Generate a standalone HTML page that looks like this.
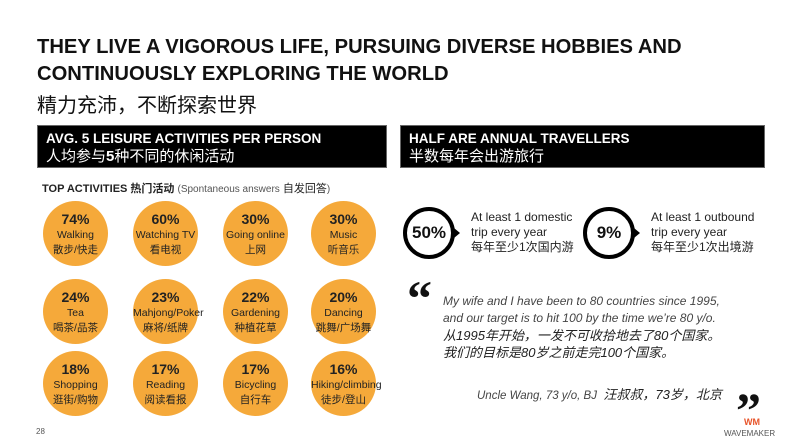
<!DOCTYPE html>
<html><head><meta charset="utf-8"><style>
*{margin:0;padding:0;box-sizing:border-box}
body{width:800px;height:448px;background:#fff;position:relative;overflow:hidden;font-family:"Liberation Sans","Noto Sans CJK SC",sans-serif;color:#111}
.a{position:absolute;white-space:nowrap}
.t{font-weight:bold;font-size:20.2px;left:37px;letter-spacing:0px}
.box{position:absolute;top:125px;height:43px;background:#000;color:#fff;padding:4px 8px;border:1px solid #666}
.box b{display:block;font-size:13.5px;line-height:17px}
.box span{display:block;font-size:15px;line-height:19px}
.c{position:absolute;width:65px;height:65px;border-radius:50%;background:#F5A93A;text-align:center;padding-top:10px;font-size:10.5px;line-height:15px;color:#222}
.c b{display:block;font-size:14px;line-height:17px}
.r{position:absolute;width:52px;height:52px;border-radius:50%;border:4px solid #000;text-align:center;line-height:44px;font-size:17px;font-weight:bold}
.r:after{content:"";position:absolute;right:-9px;top:17px;border-left:6px solid #000;border-top:5px solid transparent;border-bottom:5px solid transparent}
.rt{font-size:12px;line-height:15px;color:#222}
.q{font-size:12px;line-height:17px;color:#444;font-style:italic}
.qc{font-size:13px;line-height:17px;color:#222;font-style:italic}
</style></head><body>
<div class="a t" style="top:36px">THEY LIVE A VIGOROUS LIFE, PURSUING DIVERSE HOBBIES AND</div>
<div class="a t" style="top:63px">CONTINUOUSLY EXPLORING THE WORLD</div>
<div class="a" style="left:37px;top:89px;font-size:20px">精力充沛，不断探索世界</div>
<div class="box" style="left:37px;width:350px"><b>AVG. 5 LEISURE ACTIVITIES PER PERSON</b><span>人均参与<b style="display:inline;font-size:15px">5</b>种不同的休闲活动</span></div>
<div class="box" style="left:400px;width:365px"><b>HALF ARE ANNUAL TRAVELLERS</b><span>半数每年会出游旅行</span></div>
<div class="a" style="left:42px;top:180px;font-size:11px;color:#222"><b>TOP ACTIVITIES 热门活动</b> <span style="font-size:10px;color:#555">(Spontaneous answers</span> 自发回答<span style="font-size:10px;color:#555">)</span></div>

<div class="c" style="left:43px;top:201px"><b>74%</b>Walking<br>散步/快走</div>
<div class="c" style="left:133px;top:201px"><b>60%</b>Watching TV<br>看电视</div>
<div class="c" style="left:223px;top:201px"><b>30%</b>Going online<br>上网</div>
<div class="c" style="left:311px;top:201px"><b>30%</b>Music<br>听音乐</div>
<div class="c" style="left:43px;top:279px"><b>24%</b>Tea<br>喝茶/品茶</div>
<div class="c" style="left:133px;top:279px"><b>23%</b>Mahjong/Poker<br>麻将/纸牌</div>
<div class="c" style="left:223px;top:279px"><b>22%</b>Gardening<br>种植花草</div>
<div class="c" style="left:311px;top:279px"><b>20%</b>Dancing<br>跳舞/广场舞</div>
<div class="c" style="left:43px;top:351px"><b>18%</b>Shopping<br>逛街/购物</div>
<div class="c" style="left:133px;top:351px"><b>17%</b>Reading<br>阅读看报</div>
<div class="c" style="left:223px;top:351px"><b>17%</b>Bicycling<br>自行车</div>
<div class="c" style="left:311px;top:351px"><b>16%</b>Hiking/climbing<br>徒步/登山</div>
<div class="a" style="left:36px;top:427px;font-size:8px;color:#555">28</div>

<div class="r" style="left:403px;top:207px">50%</div>
<div class="a rt" style="left:471px;top:210px">At least 1 domestic<br>trip every year<br>每年至少1次国内游</div>
<div class="r" style="left:583px;top:207px">9%</div>
<div class="a rt" style="left:651px;top:210px">At least 1 outbound<br>trip every year<br>每年至少1次出境游</div>

<div class="a" style="left:407px;top:268px;font-size:50px;font-weight:bold;font-family:'Liberation Serif',serif;line-height:60px">“</div>
<div class="a q" style="left:443px;top:293px">My wife and I have been to 80 countries since 1995,<br>and our target is to hit 100 by the time we’re 80 y/o.</div>
<div class="a qc" style="left:443px;top:327px">从1995年开始，一发不可收拾地去了80个国家。<br>我们的目标是80岁之前走完100个国家。</div>
<div class="a q" style="left:477px;top:386px;font-size:11.5px">Uncle Wang, 73 y/o, BJ &nbsp;<span style="font-size:13px;color:#222">汪叔叔，73岁，北京</span></div>
<div class="a" style="left:736px;top:380px;font-size:50px;font-weight:bold;font-family:'Liberation Serif',serif;line-height:60px">”</div>
<div class="a" style="left:744px;top:417px;font-size:9px;font-weight:bold;color:#E8542A">WM</div>
<div class="a" style="left:724px;top:429px;font-size:8px;color:#555">WAVEMAKER</div>
</body></html>
